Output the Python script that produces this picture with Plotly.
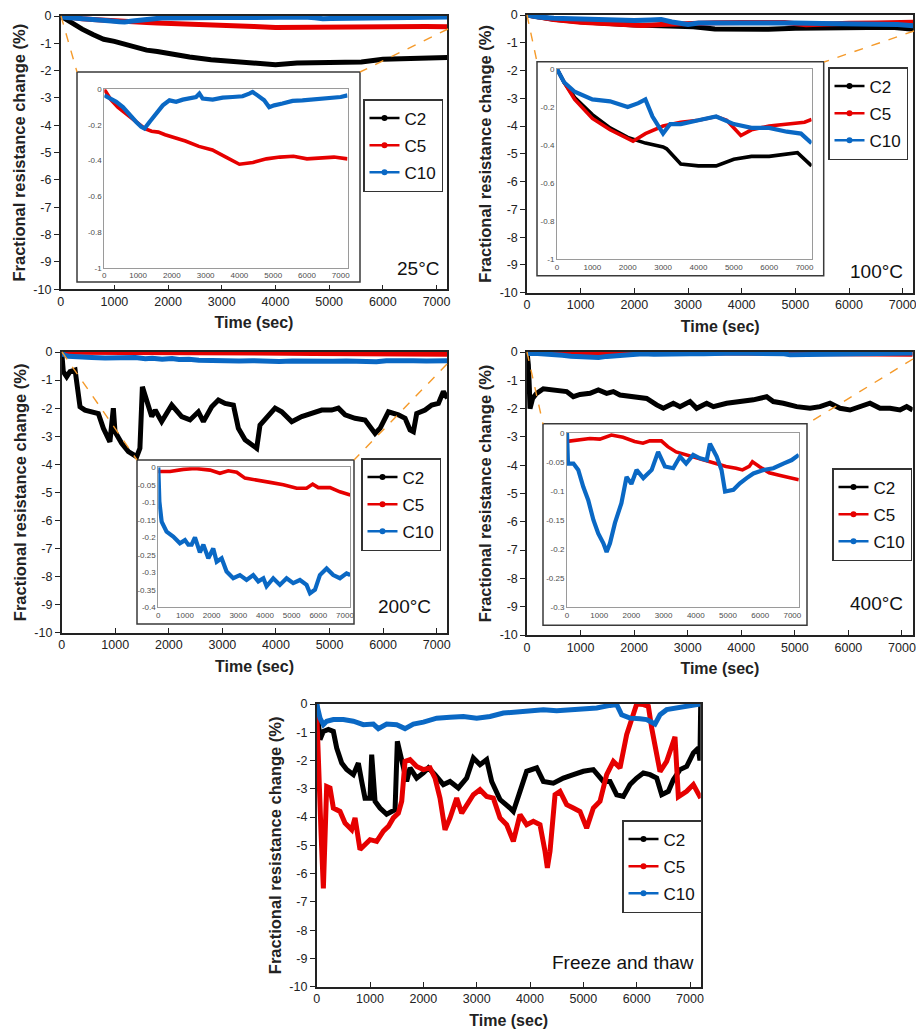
import plotly.graph_objects as go

W, H = 916, 1032

# ---------------- data ----------------
# 25 °C
t_25 = [0, 200, 400, 600, 800, 1000, 1200, 1400, 1600, 1800, 2000, 2400, 2800, 3200, 3600, 4000, 4400, 4800, 5200, 5600, 6000, 6400, 6800, 7200]
c2_25 = [0, -0.25, -0.48, -0.68, -0.85, -0.93, -1.05, -1.15, -1.25, -1.3, -1.38, -1.5, -1.6, -1.66, -1.7, -1.78, -1.72, -1.7, -1.72, -1.68, -1.58, -1.55, -1.53, -1.52]
c5_25 = [0, -0.06, -0.10, -0.13, -0.16, -0.19, -0.22, -0.235, -0.24, -0.255, -0.265, -0.29, -0.32, -0.34, -0.38, -0.42, -0.41, -0.39, -0.38, -0.375, -0.39, -0.385, -0.38, -0.39]
t10_25 = [0, 157, 354, 551, 748, 945, 1093, 1191, 1339, 1535, 1732, 1929, 2126, 2323, 2520, 2717, 2815, 2913, 3209, 3504, 3799, 4094, 4291, 4390, 4537, 4734, 4882, 5030, 5276, 5571, 5866, 6161, 6457, 6752, 6998, 7200]
c10_25 = [-0.034, -0.052, -0.07, -0.1, -0.146, -0.183, -0.21, -0.22, -0.183, -0.136, -0.09, -0.062, -0.07, -0.058, -0.052, -0.043, -0.024, -0.052, -0.058, -0.047, -0.043, -0.039, -0.024, -0.015, -0.034, -0.062, -0.1, -0.09, -0.08, -0.065, -0.062, -0.058, -0.052, -0.047, -0.043, -0.034]

# 100 °C
t2_100 = [0, 200, 500, 1000, 1500, 2000, 2500, 3000, 3100, 3500, 4000, 4500, 5000, 5500, 6000, 6500, 6800, 7200]
c2_100 = [0, -0.07, -0.15, -0.24, -0.31, -0.36, -0.39, -0.41, -0.42, -0.5, -0.51, -0.51, -0.475, -0.46, -0.46, -0.45, -0.44, -0.51]
t5_100 = [0, 200, 500, 1000, 1500, 2000, 2150, 2500, 3000, 3500, 4000, 4500, 4800, 5200, 5500, 6000, 6500, 7000, 7200]
c5_100 = [0, -0.07, -0.16, -0.26, -0.32, -0.365, -0.38, -0.34, -0.30, -0.28, -0.27, -0.25, -0.27, -0.35, -0.32, -0.30, -0.29, -0.28, -0.265]
t10_100 = [0, 200, 500, 1000, 1500, 2000, 2300, 2500, 2700, 3000, 3200, 3500, 4000, 4500, 5000, 5500, 6000, 6500, 6900, 7200]
c10_100 = [0, -0.07, -0.12, -0.16, -0.17, -0.2, -0.18, -0.16, -0.25, -0.34, -0.29, -0.29, -0.27, -0.25, -0.29, -0.31, -0.31, -0.33, -0.34, -0.39]

# 200 °C
t2_200 = [0, 30, 93, 155, 250, 342, 435, 560, 684, 778, 900, 964, 995, 1120, 1245, 1400, 1460, 1506, 1587, 1680,
          1745, 1866, 2054, 2240, 2395, 2551, 2645, 2800, 2925, 3050, 3205, 3298, 3423, 3578, 3640, 3702, 3858, 3983, 4107, 4294,
          4480, 4667, 4854, 5040, 5165, 5290, 5476, 5663, 5850, 5943, 6099, 6285, 6410, 6503, 6565, 6627, 6783, 6907, 7032, 7125, 7200]
c2_200 = [0, -0.7, -0.88, -0.7, -0.64, -1.95, -2.07, -2.13, -2.19, -2.72, -3.2, -2.0, -2.84, -3.25, -3.55, -3.73, -3.43, -1.24, -1.71, -2.3,
          -2.07, -2.48, -1.89, -2.3, -2.42, -2.13, -2.48, -1.95, -1.71, -1.83, -1.89, -2.72, -3.13, -3.31, -3.43, -2.6, -2.3, -2.0, -2.13, -2.48,
          -2.3, -2.19, -2.07, -2.07, -2.0, -2.24, -2.36, -2.42, -2.9, -2.72, -2.13, -2.24, -2.36, -2.78, -2.84, -2.19, -2.07, -1.89, -1.83, -1.41, -1.65]
t5_200 = [0, 440, 940, 1375, 1940, 2310, 2625, 2940, 3250, 3690, 4190, 4690, 5190, 5560, 5790, 6000, 6440, 6810, 7200]
c5_200 = [-0.012, -0.012, -0.006, -0.003, -0.008, -0.017, -0.01, -0.014, -0.031, -0.036, -0.043, -0.05, -0.06, -0.06, -0.048, -0.058, -0.058, -0.07, -0.079]
t10_200 = [0, 40, 125, 310, 560, 810, 1000, 1125, 1250, 1375, 1560, 1690, 1875, 2060, 2190, 2375, 2560, 2810, 3060, 3310,
           3560, 3750, 3940, 4060, 4310, 4560, 4810, 5060, 5310, 5560, 5690, 5875, 6060, 6310, 6560, 6810, 7060, 7200]
c10_200 = [0, -0.098, -0.155, -0.184, -0.198, -0.217, -0.208, -0.221, -0.221, -0.2, -0.243, -0.221, -0.26, -0.232, -0.27, -0.26, -0.298, -0.317, -0.308, -0.322,
           -0.308, -0.326, -0.317, -0.34, -0.317, -0.336, -0.317, -0.331, -0.322, -0.336, -0.36, -0.35, -0.308, -0.289, -0.308, -0.317, -0.303, -0.308]

# 400 °C
t2_400 = [0, 25, 44, 56, 105, 180, 305, 430, 554, 740, 865, 990, 1176, 1332, 1487, 1611, 1736, 1985, 2234, 2420,
          2545, 2732, 2856, 3043, 3167, 3354, 3479, 3728, 3977, 4225, 4474, 4598, 4785, 5034, 5283, 5470, 5656, 5843, 6030, 6217,
          6403, 6590, 6777, 6963, 7088, 7200]
c2_400 = [0, -0.45, -1.28, -2.0, -1.64, -1.46, -1.3, -1.34, -1.38, -1.4, -1.58, -1.5, -1.46, -1.34, -1.46, -1.4, -1.52, -1.58, -1.64, -1.87,
          -1.99, -1.81, -1.93, -1.75, -1.99, -1.81, -1.93, -1.81, -1.75, -1.69, -1.58, -1.75, -1.81, -1.93, -1.99, -1.93, -1.81, -1.99, -2.05, -1.93,
          -1.81, -1.99, -1.99, -2.05, -1.93, -2.05]
t5_400 = [0, 400, 710, 1020, 1380, 1740, 2100, 2360, 2570, 2930, 3130, 3390, 3700, 4010, 4320, 4630, 4940, 5250, 5450, 5660,
          5760, 5970, 6280, 6590, 6800, 7200]
c5_400 = [-0.015, -0.013, -0.01, -0.011, -0.004, -0.008, -0.015, -0.018, -0.014, -0.014, -0.024, -0.033, -0.038, -0.042, -0.047, -0.053, -0.058, -0.061, -0.064, -0.058,
          -0.05, -0.058, -0.069, -0.073, -0.076, -0.081]
t10_400 = [0, 30, 200, 350, 505, 660, 820, 970, 1130, 1230, 1335, 1490, 1690, 1850, 2000, 2160, 2370, 2630, 2830, 3040,
           3300, 3510, 3700, 3920, 4130, 4340, 4440, 4650, 4800, 4910, 5170, 5370, 5580, 5790, 6100, 6410, 6720, 6980, 7200]
c10_400 = [0, -0.053, -0.053, -0.064, -0.093, -0.116, -0.15, -0.173, -0.19, -0.205, -0.19, -0.155, -0.121, -0.076, -0.088, -0.064, -0.078, -0.064, -0.033, -0.058,
           -0.061, -0.041, -0.053, -0.038, -0.044, -0.047, -0.019, -0.041, -0.064, -0.101, -0.098, -0.087, -0.078, -0.07, -0.064, -0.061, -0.053, -0.047, -0.038]

# Freeze and thaw
t2_ft = [0, 31, 62, 125, 219, 312, 375, 469, 562, 687, 781, 844, 906, 1000, 1031, 1094, 1187, 1312, 1406, 1469,
         1512, 1594, 1687, 1750, 1875, 2000, 2094, 2219, 2375, 2500, 2656, 2812, 2937, 3062, 3187, 3281, 3437, 3625, 3687, 3812,
         3937, 4125, 4250, 4437, 4625, 4812, 5000, 5187, 5375, 5500, 5625, 5750, 5875, 6000, 6125, 6250, 6375, 6469, 6594, 6687,
         6812, 6937, 7062, 7156, 7185, 7200]
c2_ft = [0, -0.5, -1.26, -0.97, -0.9, -0.97, -1.56, -2.09, -2.32, -2.5, -2.09, -2.74, -3.33, -3.33, -1.79, -3.44, -3.68, -3.9, -3.8, -3.74,
         -1.32, -2.03, -2.74, -2.26, -2.62, -2.44, -2.26, -2.5, -2.85, -2.74, -2.97, -2.62, -1.91, -2.15, -1.97, -2.74, -3.38, -3.68, -3.8, -3.09,
         -2.38, -2.26, -2.74, -2.8, -2.62, -2.5, -2.38, -2.32, -2.74, -2.74, -3.21, -3.27, -2.85, -2.62, -2.44, -2.5, -2.62, -3.21, -3.09, -2.68,
         -2.32, -2.21, -1.73, -1.56, -2.0, 0]
t5_ft = [0, 31, 80, 125, 160, 187, 250, 312, 437, 531, 656, 719, 812, 906, 1000, 1125, 1250, 1344, 1437, 1531,
         1594, 1656, 1750, 1875, 2000, 2125, 2219, 2312, 2406, 2500, 2625, 2719, 2812, 2937, 3062, 3187, 3312, 3437, 3562, 3687,
         3812, 3937, 4062, 4187, 4281, 4325, 4375, 4469, 4562, 4687, 4812, 4937, 5062, 5187, 5312, 5437, 5562, 5687, 5812, 5906,
         6000, 6125, 6219, 6281, 6343, 6437, 6562, 6718, 6781, 6937, 7062, 7200]
c5_ft = [-0.26, -1.56, -4.5, -6.52, -5.0, -2.92, -2.97, -3.68, -3.8, -4.21, -4.45, -4.03, -5.15, -4.98, -4.8, -4.86, -4.5, -4.33, -4.03, -3.86,
         -3.44, -2.03, -1.97, -2.21, -2.32, -2.26, -2.62, -3.33, -4.45, -4.03, -3.33, -3.86, -3.56, -3.21, -3.03, -3.27, -3.33, -4.03, -4.27, -4.86,
         -3.91, -4.27, -4.15, -4.27, -5.21, -5.8, -5.21, -3.21, -3.09, -3.56, -3.68, -3.8, -4.39, -3.68, -3.44, -2.5, -2.03, -2.26, -1.08, -0.5,
         0, -0.02, -0.08, -0.85, -1.57, -2.39, -2.03, -1.16, -3.28, -3.09, -2.85, -3.33]
t10_ft = [0, 62, 125, 187, 312, 500, 687, 875, 1062, 1156, 1312, 1500, 1656, 1812, 2000, 2250, 2500, 2750, 3000, 3250,
          3500, 3750, 4000, 4250, 4500, 4750, 5000, 5250, 5500, 5625, 5718, 5875, 6062, 6187, 6343, 6437, 6562, 6750, 6937, 7062, 7187]
c10_ft = [0, -0.5, -0.73, -0.61, -0.55, -0.55, -0.61, -0.73, -0.71, -0.87, -0.71, -0.73, -0.87, -0.71, -0.64, -0.5, -0.47, -0.44, -0.5, -0.44,
          -0.32, -0.28, -0.26, -0.2, -0.24, -0.2, -0.18, -0.14, -0.05, -0.02, -0.38, -0.5, -0.52, -0.55, -0.71, -0.38, -0.2, -0.14, -0.08, -0.02, 0]

series_names = ["C2", "C5", "C10"]
panel_labels = ["25°C", "100°C", "200°C", "400°C", "Freeze and thaw"]
x_ticks = [0, 1000, 2000, 3000, 4000, 5000, 6000, 7000]
main_y_ticks = [0, -1, -2, -3, -4, -5, -6, -7, -8, -9, -10]
main_y_text = ["0", "-1", "-2", "-3", "-4", "-5", "-6", "-7", "-8", "-9", "-10"]
inset_y_ticks_1 = [0, -0.2, -0.4, -0.6, -0.8, -1]
inset_y_text_1 = ["0", "-0.2", "-0.4", "-0.6", "-0.8", "-1"]
inset_y_ticks_3 = [0, -0.05, -0.1, -0.15, -0.2, -0.25, -0.3, -0.35, -0.4]
inset_y_text_3 = ["0", "-0.05", "-0.1", "-0.15", "-0.2", "-0.25", "-0.3", "-0.35", "-0.4"]
inset_y_ticks_4 = [0, -0.05, -0.1, -0.15, -0.2, -0.25, -0.3]
inset_y_text_4 = ["0", "-0.05", "-0.1", "-0.15", "-0.2", "-0.25", "-0.3"]

COL = {"C2": "#000000", "C5": "#e60000", "C10": "#0a68c4"}
FONT = "Liberation Sans, Arial, sans-serif"

panels = [
    [("C2", t_25, c2_25), ("C5", t_25, c5_25), ("C10", t10_25, c10_25)],
    [("C2", t2_100, c2_100), ("C5", t5_100, c5_100), ("C10", t10_100, c10_100)],
    [("C2", t2_200, c2_200), ("C5", t5_200, c5_200), ("C10", t10_200, c10_200)],
    [("C2", t2_400, c2_400), ("C5", t5_400, c5_400), ("C10", t10_400, c10_400)],
    [("C2", t2_ft, c2_ft), ("C5", t5_ft, c5_ft), ("C10", t10_ft, c10_ft)],
]
insets = [
    (0, ["C5", "C10"], [-1, 0], inset_y_ticks_1, inset_y_text_1),
    (1, ["C2", "C5", "C10"], [-1, 0], inset_y_ticks_1, inset_y_text_1),
    (2, ["C5", "C10"], [-0.4, 0], inset_y_ticks_3, inset_y_text_3),
    (3, ["C5", "C10"], [-0.3, 0], inset_y_ticks_4, inset_y_text_4),
]

# ---------------- layout geometry (pixels) ----------------
main_box = [(60.7, 447.3, 16, 289.3), (527, 913.4, 15, 292.7), (61.7, 447.4, 352, 632.7),
            (527, 912.7, 352, 635), (316.7, 700.7, 704, 986.7)]
inset_box = [(104.3, 347.5, 89.3, 267.7), (557, 811.6, 69, 259), (158.3, 350.3, 467.3, 607.3),
             (567, 798.8, 432.7, 607.3)]
inset_outer = [(77, 72, 360, 282), (537, 61.7, 823.7, 275.7), (137, 460, 354, 624), (543, 423.7, 807, 625.3)]
connectors = [[(61, 16, 77, 72), (448, 29, 360, 72)], [(527, 15, 537, 62), (914, 31, 824, 62)],
              [(62, 352, 137, 460), (447, 364, 354, 460)], [(527, 352, 543, 424), (913, 359, 807, 424)]]
legend_pos = [(363, 99), (828, 67), (361, 458), (832, 468), (622, 820)]
label_pos = [(441, 281), (905, 284), (433, 619), (905, 616), (696, 975)]


def px(x):
    return x / W


def py(y):
    return 1 - y / H


fig = go.Figure()
layout = {}

for i, ser in enumerate(panels):
    k = i + 1
    xa = "x" if k == 1 else f"x{k}"
    ya = "y" if k == 1 else f"y{k}"
    leg = "legend" if k == 1 else f"legend{k}"
    for name, t, v in ser:
        fig.add_trace(go.Scatter(
            x=t, y=v, mode="lines", name=name,
            line=dict(color=COL[name], width=5),
            xaxis=xa, yaxis=ya, showlegend=False, hoverinfo="skip"))
    # legend entries (line with a dot marker, as in the original legend)
    for name in series_names:
        fig.add_trace(go.Scatter(
            x=[None], y=[None], mode="lines+markers", name=name,
            line=dict(color=COL[name], width=2.5), marker=dict(color=COL[name], size=6),
            xaxis=xa, yaxis=ya, legend=leg, legendgroup=f"{k}{name}", showlegend=True,
            hoverinfo="skip"))
    x0, x1, y0, y1 = main_box[i]
    layout["xaxis" if k == 1 else f"xaxis{k}"] = dict(
        domain=[px(x0), px(x1)], anchor=ya, range=[0, 7200], tickvals=x_ticks, automargin=False,
        showline=True, linecolor="#222", linewidth=1.5, mirror=True, ticks="inside",
        ticklen=5, tickcolor="#222", showgrid=False, zeroline=False, ticklabeloverflow="allow",
        tickfont=dict(family=FONT, size=12.5, color="#222"),
        title=dict(text="<b>Time (sec)</b>", font=dict(family=FONT, size=16, color="#222"), standoff=9))
    layout["yaxis" if k == 1 else f"yaxis{k}"] = dict(
        domain=[py(y1), py(y0)], anchor=xa, range=[-10, 0], tickvals=main_y_ticks, ticktext=main_y_text,
        automargin=False, ticklabeloverflow="allow",
        showline=True, linecolor="#222", linewidth=1.5, mirror=True, ticks="outside",
        ticklen=5, tickcolor="#222", showgrid=False, zeroline=False,
        tickfont=dict(family=FONT, size=12.5, color="#222"),
        title=dict(text="<b>Fractional resistance change (%)</b>", font=dict(family=FONT, size=16.5, color="#222"), standoff=4))
    lx, ly = legend_pos[i]
    layout[leg] = dict(x=px(lx), y=py(ly), xanchor="left", yanchor="top", bgcolor="white",
                       bordercolor="#333", borderwidth=1.5, font=dict(family=FONT, size=17, color="#111"),
                       itemwidth=30, traceorder="grouped", tracegroupgap=2)

shapes = []
for j, (pi, names, yr, ytv, ytt) in enumerate(insets):
    k = 6 + j
    xa, ya = f"x{k}", f"y{k}"
    lookup = {n: (t, v) for n, t, v in panels[pi]}
    for name in names:
        t, v = lookup[name]
        fig.add_trace(go.Scatter(
            x=t, y=v, mode="lines", name=name,
            line=dict(color=COL[name], width=4.2 if name == "C10" else 3.6),
            xaxis=xa, yaxis=ya, showlegend=False, hoverinfo="skip"))
    x0, x1, y0, y1 = inset_box[j]
    layout[f"xaxis{k}"] = dict(domain=[px(x0), px(x1)], anchor=ya, range=[0, 7200], tickvals=x_ticks,
                               automargin=False,
                               showline=True, linecolor="#9a9a9a", linewidth=1, mirror=True, ticks="",
                               showgrid=False, zeroline=False,
                               tickfont=dict(family=FONT, size=8, color="#4d4d4d"))
    layout[f"yaxis{k}"] = dict(domain=[py(y1), py(y0)], anchor=xa, range=yr, tickvals=ytv, ticktext=ytt,
                               automargin=False,
                               showline=True, linecolor="#9a9a9a", linewidth=1, mirror=True, ticks="",
                               showgrid=False, zeroline=False,
                               tickfont=dict(family=FONT, size=8, color="#4d4d4d"))
    ox0, oy0, ox1, oy1 = inset_outer[j]
    shapes.append(dict(type="rect", xref="paper", yref="paper", x0=px(ox0), x1=px(ox1), y0=py(oy1), y1=py(oy0),
                       line=dict(color="#3a3a3a", width=1.5), fillcolor="white", layer="below"))
    for (ax, ay, bx, by) in connectors[j]:
        shapes.append(dict(type="line", xref="paper", yref="paper", x0=px(ax), y0=py(ay), x1=px(bx), y1=py(by),
                           line=dict(color="#f59a2a", width=1.4, dash="dash"), layer="above"))

annotations = []
for i, lab in enumerate(panel_labels):
    ax, ay = label_pos[i]
    annotations.append(dict(text=lab, x=px(ax), y=py(ay), xref="paper", yref="paper", xanchor="right",
                            yanchor="bottom", showarrow=False, font=dict(family=FONT, size=19, color="#111")))

fig.update_layout(width=W, height=H, margin=dict(l=0, r=0, t=0, b=0, autoexpand=False), paper_bgcolor="white",
                  plot_bgcolor="white", shapes=shapes, annotations=annotations, **layout)
fig.write_html("out.html", config={"displayModeBar": False},
               post_script="document.body.style.margin='0px';document.body.style.overflow='hidden';")
